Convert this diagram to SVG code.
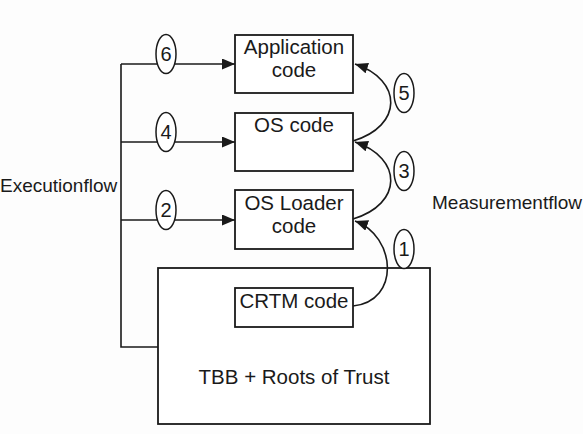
<svg xmlns="http://www.w3.org/2000/svg" width="583" height="434" viewBox="0 0 583 434">
<style>
.box{fill:#fff;stroke:#1a1a1a;stroke-width:1.8}
.ln{fill:none;stroke:#1a1a1a;stroke-width:1.6}
.ov{fill:#fff;stroke:#1a1a1a;stroke-width:1.5}
text{font-family:"Liberation Sans",Arial,sans-serif;fill:#1a1a1a}
.t{font-size:20.5px;text-anchor:middle}
.n{font-size:20px;text-anchor:middle}
.s{font-size:19px}
</style>
<defs>
<marker id="ah" markerUnits="userSpaceOnUse" markerWidth="14" markerHeight="12" refX="13" refY="5.5" orient="auto">
<path d="M0,0 L13,5.5 L0,11 z" fill="#1a1a1a"/>
</marker>
</defs>
<rect width="583" height="434" fill="#fdfdfd"/>
<g id="tbb">
<rect class="box" x="158" y="268" width="272" height="156"/>
<text class="t" x="294" y="384">TBB + Roots of Trust</text>
</g>
<g id="crtm">
<rect class="box" x="235" y="288" width="118" height="39"/>
<text class="t" x="294" y="308">CRTM code</text>
</g>
<g id="loader">
<rect class="box" x="235" y="190" width="118" height="59"/>
<text class="t" x="294" y="210">OS Loader</text>
<text class="t" x="294" y="233">code</text>
</g>
<g id="os">
<rect class="box" x="235" y="113" width="118" height="58"/>
<text class="t" x="294" y="132">OS code</text>
</g>
<g id="app">
<rect class="box" x="235" y="35" width="118" height="58"/>
<text class="t" x="294" y="54">Application</text>
<text class="t" x="294" y="77">code</text>
</g>
<g id="connectors">
<path class="ln" d="M121,64 V347 H158"/>
<path class="ln" d="M121,64 H235" marker-end="url(#ah)"/>
<path class="ln" d="M121,142 H235" marker-end="url(#ah)"/>
<path class="ln" d="M121,220 H235" marker-end="url(#ah)"/>
<path class="ln" d="M353,306 C401,301 396,236 355,221" marker-end="url(#ah)"/>
<path class="ln" d="M353,219 C403,204 403,158 355,142" marker-end="url(#ah)"/>
<path class="ln" d="M353,141 C403,126 403,80 355,64" marker-end="url(#ah)"/>
</g>
<g id="labels">
<ellipse class="ov" cx="166" cy="54" rx="10" ry="19.5"/>
<text class="n" x="166" y="61">6</text>
<ellipse class="ov" cx="166" cy="132" rx="10" ry="19.5"/>
<text class="n" x="166" y="139">4</text>
<ellipse class="ov" cx="166" cy="210" rx="10" ry="19.5"/>
<text class="n" x="166" y="217">2</text>
<ellipse class="ov" cx="404" cy="93" rx="10" ry="19.5"/>
<text class="n" x="404" y="100">5</text>
<ellipse class="ov" cx="404" cy="171" rx="10" ry="19.5"/>
<text class="n" x="404" y="178">3</text>
<ellipse class="ov" cx="404" cy="249" rx="10" ry="19.5"/>
<text class="n" x="404" y="256">1</text>
<text class="s" x="0" y="192">Executionflow</text>
<text class="s" x="432" y="209">Measurementflow</text>
</g>
</svg>
